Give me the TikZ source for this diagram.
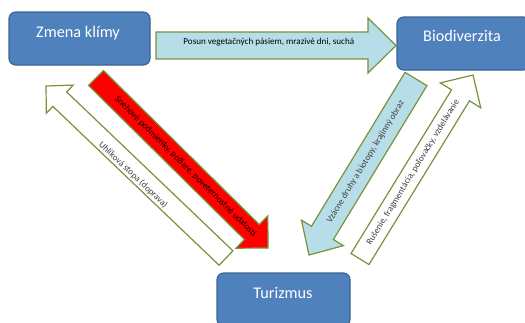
\documentclass[tikz,border=0pt]{standalone}
\usepackage{fontspec}
\setmainfont{Carlito}
\usetikzlibrary{calc}
\definecolor{boxblue}{HTML}{4F81BD}
\definecolor{boxline}{HTML}{3A6595}
\definecolor{lightblue}{HTML}{B7DEE8}
\definecolor{olivegreen}{HTML}{77933C}
\definecolor{txtgray}{HTML}{404040}
\newcommand\blockarrow[6]{%
  \draw[#6] ($(#1)!#3!90:(#2)$) -- ($(#2)!#5!(#1)!#3!90:(#2)$) -- ($(#2)!#5!(#1)!#4!90:(#2)$) -- (#2)
    -- ($(#2)!#5!(#1)!#4!-90:(#2)$) -- ($(#2)!#5!(#1)!#3!-90:(#2)$) -- ($(#1)!#3!-90:(#2)$) -- cycle;}
\begin{document}
\begin{tikzpicture}[x=0.75pt,y=-0.75pt,
  box/.style={draw=boxline, line width=0.9pt, fill=boxblue, rounded corners=5pt, inner sep=0pt},
  boxtext/.style={text=white, font=\fontsize{12.2}{14}\selectfont},
  arrowline/.style={draw=olivegreen, line width=0.9pt, line join=miter},
  arrowtext/.style={font=\fontsize{6.8}{7.5}\selectfont, inner sep=0pt}]
\useasboundingbox (0,0) rectangle (525,322);
\clip (0,0) rectangle (525,322);
\fill[white] (0,0) rectangle (525,322);
% boxes
\node[box, minimum width=105.75pt, minimum height=39.75pt] (zk) at (79.5,38.5) {};
\node[boxtext] (zkt) at (78,33) {Zmena klímy};
\node[box, minimum width=99.75pt, minimum height=39.75pt] (bio) at (463.5,43.5) {};
\node[boxtext] (biot) at (462,36) {Biodiverzita};
\node[box, minimum width=99.75pt, minimum height=39.75pt] (tur) at (283.5,299.5) {};
\node[boxtext] (turt) at (283,293) {Turizmus};
% arrow end points
\coordinate (a1) at (156,45.5);  \coordinate (b1) at (396,45.5);
\coordinate (a2) at (96,78);     \coordinate (b2) at (268,248);
\coordinate (a3) at (226,258);   \coordinate (b3) at (46,86);
\coordinate (a4) at (416,79);    \coordinate (b4) at (309,255);
\coordinate (a5) at (360,259);   \coordinate (b5) at (473,75);
% arrows
\blockarrow{a1}{b1}{10.1pt}{20.6pt}{21pt}{arrowline, fill=lightblue}
\blockarrow{a2}{b2}{7.9pt}{17pt}{17pt}{arrowline, fill=red}
\blockarrow{a3}{b3}{7.5pt}{14.6pt}{14.3pt}{arrowline, fill=white}
\blockarrow{a4}{b4}{9.6pt}{18.4pt}{19.4pt}{arrowline, fill=lightblue}
\blockarrow{a5}{b5}{7.9pt}{17.8pt}{17.9pt}{arrowline, fill=white}
% labels
\path (a1) -- (b1) node[arrowtext, pos=0.47, yshift=2.5pt] {Posun vegetačných pásiem, mrazivé dni, suchá};
\path (a2) -- (b2) node[arrowtext, pos=0.52, sloped] {Snehové podmienky, požiare, poveternostné udalosti};
\path ($(a3)!3pt!90:(b3)$) -- ($(b3)!3pt!-90:(a3)$) node[arrowtext, text=txtgray, midway, sloped] {Uhlíková stopa (doprava)};
\path (a4) -- (b4) node[arrowtext, text=txtgray, pos=0.47, sloped] {Vzácne druhy a biotopy, krajinný obraz};
\path (a5) -- (b5) node[arrowtext, text=txtgray, pos=0.47, sloped] {Rušenie, fragmentácia, poľovačky, vzdelávanie};
\end{tikzpicture}
\end{document}
